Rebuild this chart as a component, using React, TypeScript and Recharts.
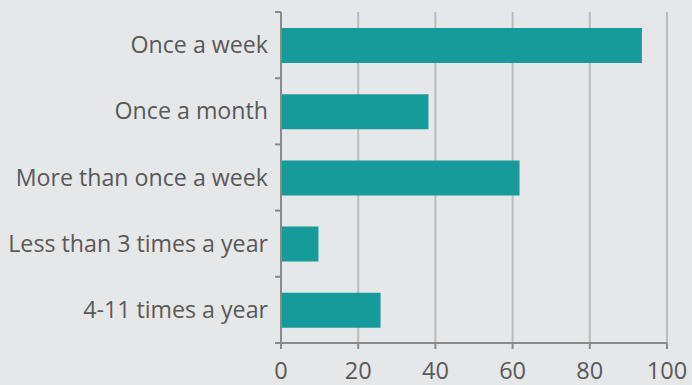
import { Bar, BarChart, CartesianGrid, XAxis, YAxis } from "recharts";

const categories = [
  "Once a week",
  "Once a month",
  "More than once a week",
  "Less than 3 times a year",
  "4-11 times a year",
];
const values = [93.5, 38.2, 61.8, 9.7, 25.8];
const xTicks = [0, 20, 40, 60, 80, 100];

const data = categories.map((name, i) => ({ name, value: values[i] }));

const FONT = "'Open Sans', sans-serif";
const TEXT = "#595959";
const AXIS = "#8a8a8a";

// label plus a short tick at each band boundary (the reference marks boundaries, not centres)
function CategoryTick(props: any) {
  const { x, y, payload, index, visibleTicksCount } = props;
  const half = payload && payload.offset ? payload.offset : 33;
  const ax = x + 13;
  return (
    <g>
      <line x1={ax - 6} x2={ax} y1={y - half} y2={y - half} stroke={AXIS} strokeWidth={2} />
      {index === visibleTicksCount - 1 && (
        <line x1={ax - 6} x2={ax} y1={y + half} y2={y + half} stroke={AXIS} strokeWidth={2} />
      )}
      <text
        x={x}
        y={y}
        dy="0.35em"
        textAnchor="end"
        fill={TEXT}
        fontSize={23.2}
        fontFamily={FONT}
      >
        {payload.value}
      </text>
    </g>
  );
}

export default function App() {
  return (
    <div
      style={{
        position: "absolute",
        left: 0,
        top: 0,
        width: 692,
        height: 385,
        background: "#e6e7e8",
      }}
    >
      <BarChart
        width={692}
        height={385}
        data={data}
        layout="vertical"
        margin={{ top: 12, right: 25, left: 0, bottom: 0 }}
      >
        <CartesianGrid horizontal={false} stroke="#bcbcbc" strokeWidth={2} />
        <XAxis
          type="number"
          domain={[0, 100]}
          ticks={xTicks}
          height={42}
          axisLine={{ stroke: AXIS, strokeWidth: 2 }}
          tickLine={{ stroke: AXIS, strokeWidth: 2 }}
          tickSize={6}
          tickMargin={13}
          tick={{ fill: TEXT, fontSize: 23.5, fontFamily: FONT }}
          interval={0}
        />
        <YAxis
          type="category"
          dataKey="name"
          width={281}
          axisLine={{ stroke: AXIS, strokeWidth: 2 }}
          tickLine={false}
          tickMargin={7}
          tick={<CategoryTick />}
          interval={0}
        />
        <Bar dataKey="value" fill="#179b9a" barSize={35} isAnimationActive={false} />
      </BarChart>
    </div>
  );
}
